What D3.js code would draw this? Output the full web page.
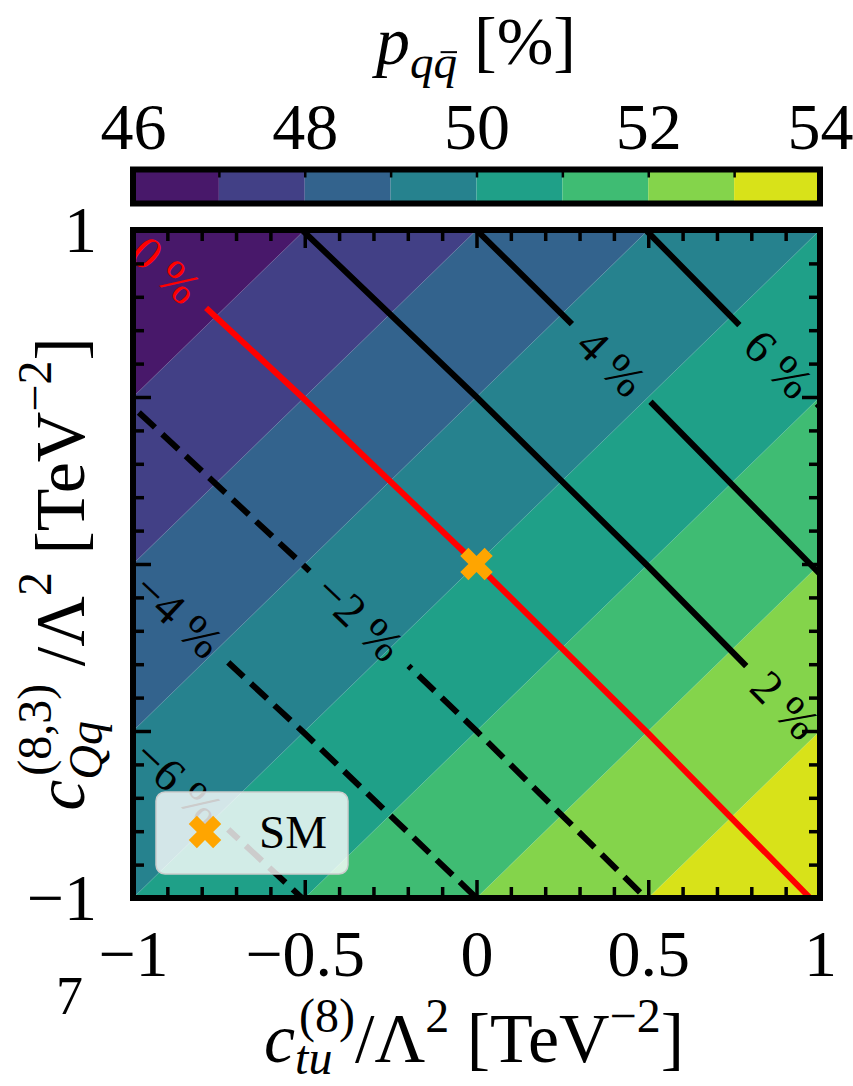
<!DOCTYPE html>
<html>
<head>
<meta charset="utf-8">
<script src="https://cdn.jsdelivr.net/npm/d3@7"></script>
<style>
  html, body { margin: 0; padding: 0; background: #fff; }
  svg text { font-family: "Liberation Serif", "DejaVu Serif", serif; }
</style>
</head>
<body>
<script>
// grid nodes the two maps were read at
var gridX = [-1, -0.5, 0, 0.5, 1];
var gridY = [1, 0.5, 0, -0.5, -1];   // rows, top to bottom

// p_qqbar [%] at the nodes, row by row
var pqqValues = [
  46, 47, 48, 49, 50,
  47, 48, 49, 50, 51,
  48, 49, 50, 51, 52,
  49, 50, 51, 52, 53,
  50, 51, 52, 53, 54
];
// relative change [%] at the same nodes
var deltaValues = [
   0.12,  2.03,  4.00,  6.03, 8.12,
  -1.88,  0.03,  2.00,  4.03, 6.12,
  -3.88, -1.97,  0.00,  2.03, 4.12,
  -5.88, -3.97, -2.00,  0.03, 2.12,
  -7.88, -5.97, -4.00, -1.97, 0.12
];
var fillLevels = [46, 47, 48, 49, 50, 51, 52, 53, 54];
var lineLevels = [-6, -4, -2, 0, 2, 4, 6];
var labelAt = [-0.869, -0.869, -0.342, -0.905, 0.898, 0.392, 0.878]; // x of each inline label
var cbarTicks = [46, 48, 50, 52, 54];
var axisTicks = [-1, -0.5, 0, 0.5, 1];
var yTickLabels = [-1, 1];
var smPoint = [0, 0];

var W = 853, H = 1086;
var plotL = 133, plotR = 820, plotT = 230, plotB = 898;
var serif = '"Liberation Serif", "DejaVu Serif", serif';
var tickFont = 66;

var svg = d3.select("body").append("svg")
    .attr("width", W)
    .attr("height", H);
var defs = svg.append("defs");

var x = d3.scaleLinear().domain([-1, 1]).range([plotL, plotR]);
var y = d3.scaleLinear().domain([-1, 1]).range([plotB, plotT]);

var nx = gridX.length, ny = gridY.length;
// d3.contours puts node i at i + 0.5
var gx = d3.scaleLinear().domain([0.5, nx - 0.5]).range([x(gridX[0]), x(gridX[nx - 1])]);
var gy = d3.scaleLinear().domain([0.5, ny - 0.5]).range([y(gridY[0]), y(gridY[ny - 1])]);
var gridPath = d3.geoPath(d3.geoTransform({
  point: function(a, b) { this.stream.point(gx(a), gy(b)); }
}));

var zmin = fillLevels[0], zmax = fillLevels[fillLevels.length - 1];
var color = function(lo, hi) {
  return d3.interpolateViridis(((lo + hi) / 2 - zmin) / (zmax - zmin));
};

defs.append("clipPath").attr("id", "plotclip")
  .append("rect")
    .attr("x", plotL).attr("y", plotT)
    .attr("width", plotR - plotL).attr("height", plotB - plotT);

// filled bands
var bands = d3.contours().size([nx, ny]).thresholds(fillLevels.slice(0, -1))(pqqValues);
svg.append("g")
    .attr("clip-path", "url(#plotclip)")
  .selectAll("path")
  .data(bands)
  .join("path")
    .attr("d", gridPath)
    .attr("fill", function(d) { return color(d.value, d.value + 1); })
    .attr("stroke", function(d, i) { return i ? "rgba(255,255,255,0.25)" : "none"; })
    .attr("stroke-width", 1);

// contour line layer (filled below, after the labels are known)
var lineLayer = svg.append("g").attr("clip-path", "url(#plotclip)")
  .append("g").attr("mask", "url(#gapmask)");

// gaps in the lines where the labels sit
var mask = defs.append("mask").attr("id", "gapmask")
    .attr("maskUnits", "userSpaceOnUse")
    .attr("x", 0).attr("y", 0).attr("width", W).attr("height", H);
mask.append("rect").attr("width", W).attr("height", H).attr("fill", "white");

function deltaAt(xd, yd) {
  var fi = (xd - gridX[0]) / (gridX[1] - gridX[0]);
  var fj = (yd - gridY[0]) / (gridY[1] - gridY[0]);
  var i = Math.max(0, Math.min(nx - 2, Math.floor(fi)));
  var j = Math.max(0, Math.min(ny - 2, Math.floor(fj)));
  var u = fi - i, v = fj - j;
  var a = deltaValues[j * nx + i], b = deltaValues[j * nx + i + 1],
      c = deltaValues[(j + 1) * nx + i], e = deltaValues[(j + 1) * nx + i + 1];
  return a * (1 - u) * (1 - v) + b * u * (1 - v) + c * (1 - u) * v + e * u * v;
}
function levelY(level, xd) {
  var lo = -1.6, hi = 1.6;
  for (var k = 0; k < 50; k++) {
    var mid = (lo + hi) / 2;
    if (deltaAt(xd, mid) < level) lo = mid; else hi = mid;
  }
  return (lo + hi) / 2;
}
var lineColor = function(lv) { return lv === 0 ? "#ff0000" : "#000"; };
var fmtPct = function(lv) { return (lv < 0 ? "\u2212" : "") + Math.abs(lv) + " %"; };

var labelG = svg.append("g").attr("font-family", serif).attr("font-size", 47);
lineLevels.forEach(function(lv, k) {
  var xd = labelAt[k];
  var px = x(xd), py = y(levelY(lv, xd));
  var p1 = [x(xd - 0.03), y(levelY(lv, xd - 0.03))],
      p2 = [x(xd + 0.03), y(levelY(lv, xd + 0.03))];
  var ang = Math.atan2(p2[1] - p1[1], p2[0] - p1[0]) * 180 / Math.PI;
  var tr = "translate(" + px + "," + py + ") rotate(" + ang + ")";
  var t = labelG.append("text")
      .attr("transform", tr)
      .attr("text-anchor", "middle")
      .attr("dy", "0.33em")
      .attr("fill", lineColor(lv))
      .text(fmtPct(lv));
  var len = t.node().getComputedTextLength();
  mask.append("rect")
      .attr("transform", tr)
      .attr("x", -len / 2 - 18).attr("y", -14)
      .attr("width", len + 36).attr("height", 28)
      .attr("fill", "black");
});

// contour lines
var isolines = d3.contours().size([nx, ny]).thresholds(lineLevels)(deltaValues);
lineLayer.selectAll("path")
  .data(isolines)
  .join("path")
    .attr("d", gridPath)
    .attr("fill", "none")
    .attr("stroke", function(d) { return lineColor(d.value); })
    .attr("stroke-width", 6)
    .attr("stroke-dasharray", function(d) { return d.value < 0 ? "22,10" : null; });

// SM point
var xMarker = d3.symbol(d3.symbolCross, 660)();
svg.append("path")
    .attr("d", xMarker)
    .attr("transform", "translate(" + x(smPoint[0]) + "," + y(smPoint[1]) + ") rotate(45)")
    .attr("fill", "#ffa500");

// legend
var leg = svg.append("g");
leg.append("rect")
    .attr("x", 156).attr("y", 792).attr("width", 192).attr("height", 82).attr("rx", 9)
    .attr("fill", "white").attr("fill-opacity", 0.8)
    .attr("stroke", "#cccccc").attr("stroke-width", 1.5);
leg.append("path")
    .attr("d", xMarker)
    .attr("transform", "translate(205,832) rotate(45)")
    .attr("fill", "#ffa500");
leg.append("text")
    .attr("x", 259).attr("y", 848)
    .attr("font-size", 47)
    .text("SM");

// ticks, all pointing inwards
var minorTicks = d3.range(-10, 11).map(function(i) { return i / 10; })
    .filter(function(v) { return axisTicks.indexOf(v) < 0; });
var tickFmt = d3.format("~g");
var yFmt = function(v) { return yTickLabels.indexOf(v) >= 0 ? tickFmt(v) : ""; };
function frameTicks(axis, transform, values, len, fmt, pad) {
  var g = svg.append("g")
      .attr("transform", transform)
      .call(axis.tickValues(values).tickSize(-len).tickPadding(pad || 0).tickFormat(fmt || ""));
  g.select(".domain").remove();
  g.selectAll("line").attr("stroke-width", 3.5);
  g.attr("font-family", serif).attr("font-size", tickFont);
  g.selectAll("text").attr("fill", "#000");
  return g;
}
frameTicks(d3.axisBottom(x), "translate(0," + plotB + ")", axisTicks, 18, tickFmt, 31);
frameTicks(d3.axisBottom(x), "translate(0," + plotB + ")", minorTicks, 11);
frameTicks(d3.axisTop(x), "translate(0," + plotT + ")", axisTicks, 18);
frameTicks(d3.axisTop(x), "translate(0," + plotT + ")", minorTicks, 11);
frameTicks(d3.axisLeft(y), "translate(" + plotL + ",0)", axisTicks, 18, yFmt, 36);
frameTicks(d3.axisLeft(y), "translate(" + plotL + ",0)", minorTicks, 11);
frameTicks(d3.axisRight(y), "translate(" + plotR + ",0)", axisTicks, 18);
frameTicks(d3.axisRight(y), "translate(" + plotR + ",0)", minorTicks, 11);

svg.append("rect")
    .attr("x", plotL).attr("y", plotT)
    .attr("width", plotR - plotL).attr("height", plotB - plotT)
    .attr("fill", "none").attr("stroke", "#000").attr("stroke-width", 6);

// colorbar
var cb = d3.scaleLinear().domain([zmin, zmax]).range([plotL, plotR]);
var cbTop = 169.5, cbH = 34;
svg.append("g").selectAll("rect")
  .data(d3.pairs(fillLevels))
  .join("rect")
    .attr("x", function(d) { return cb(d[0]); })
    .attr("width", function(d) { return cb(d[1]) - cb(d[0]); })
    .attr("y", cbTop).attr("height", cbH)
    .attr("fill", function(d) { return color(d[0], d[1]); });
var cbt = svg.append("g").attr("transform", "translate(0," + cbTop + ")")
    .call(d3.axisTop(cb).tickValues(fillLevels.slice(1, -1)).tickSize(-8).tickFormat(""));
cbt.select(".domain").remove();
cbt.selectAll("line").attr("stroke-width", 2.5);
var cbl = svg.append("g").attr("transform", "translate(0," + cbTop + ")")
    .call(d3.axisTop(cb).tickValues(cbarTicks).tickSize(0).tickPadding(21).tickFormat(d3.format("d")))
    .attr("font-family", serif).attr("font-size", tickFont);
cbl.select(".domain").remove();
cbl.selectAll("text").attr("fill", "#000");
svg.append("rect")
    .attr("x", plotL).attr("y", cbTop).attr("width", plotR - plotL).attr("height", cbH)
    .attr("fill", "none").attr("stroke", "#000").attr("stroke-width", 6);

// labels made of pieces (base, sub, sup)
function mathLabel(transform, pieces) {
  var g = svg.append("g").attr("transform", transform);
  var inner = g.append("g");
  var cursor = 0, lastX = 0;
  pieces.forEach(function(p) {
    var px = (p.stack ? lastX : cursor) + (p.gap || 0);
    var t = inner.append("text")
        .attr("x", px).attr("y", p.dy || 0)
        .attr("font-size", p.size)
        .attr("font-style", p.it ? "italic" : null)
        .style("white-space", "pre")
        .text(p.t);
    var w = t.node().getComputedTextLength();
    if (p.bar) {
      inner.append("line")
          .attr("x1", px + w * 0.3).attr("x2", px + w * 1.0)
          .attr("y1", (p.dy || 0) - p.size * 0.55).attr("y2", (p.dy || 0) - p.size * 0.55)
          .attr("stroke", "#000").attr("stroke-width", 2);
    }
    cursor = Math.max(cursor, px + w);
    lastX = px;
  });
  inner.attr("transform", "translate(" + (-cursor / 2) + ",0)");
}
var B = 70, S = 48;
mathLabel("translate(476,64)", [
  { t: "p", it: true, size: 68 },
  { t: "q", it: true, size: 47, dy: 14 },
  { t: "q", it: true, size: 47, dy: 14, bar: true },
  { t: " [%]", size: 68 }
]);
mathLabel("translate(474,1062)", [
  { t: "c", it: true, size: B },
  { t: "tu", it: true, size: S, dy: 12 },
  { t: "(8)", size: S, dy: -30, stack: true, gap: 4 },
  { t: "/\u039b", size: B },
  { t: "2", size: S, dy: -30 },
  { t: " [TeV", size: B },
  { t: "\u22122", size: S, dy: -30 },
  { t: "]", size: B }
]);
mathLabel("translate(84,574) rotate(-90)", [
  { t: "c", it: true, size: B },
  { t: "Qq", it: true, size: S, dy: 18 },
  { t: "(8,3)", size: S, dy: -33, stack: true, gap: 4 },
  { t: " /\u039b", size: B },
  { t: "2", size: S, dy: -33 },
  { t: " [TeV", size: B },
  { t: "\u22122", size: S, dy: -33 },
  { t: "]", size: B }
]);

svg.append("text")
    .attr("x", 56).attr("y", 1014)
    .attr("font-family", '"Liberation Sans", sans-serif')
    .attr("font-size", 54)
    .text("7");
</script>
</body>
</html>
